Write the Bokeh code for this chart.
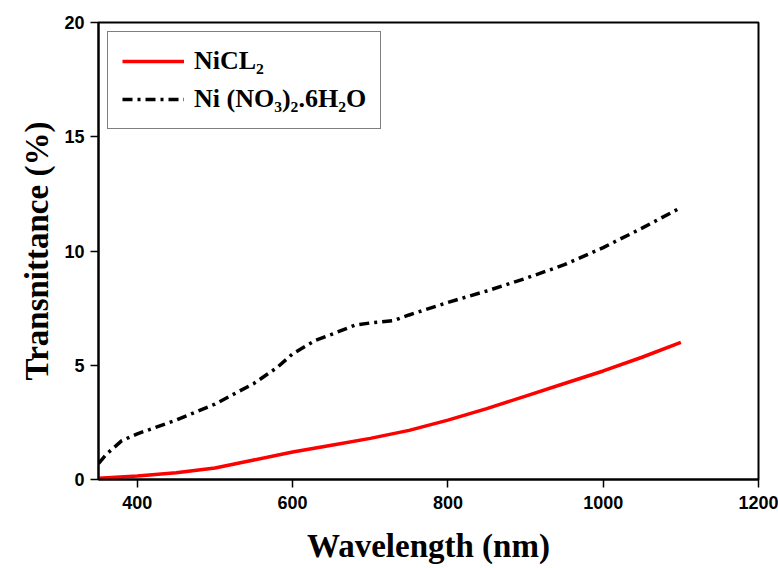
from bokeh.plotting import figure
from bokeh.models import Range1d, FixedTicker, Legend, LegendItem
from bokeh.embed import file_html
from bokeh.resources import INLINE

wl_nicl = [350, 400, 450, 500, 550, 600, 650, 700, 750, 800, 850, 900, 950, 1000, 1050, 1100]
t_nicl = [0.05, 0.15, 0.3, 0.5, 0.85, 1.2, 1.5, 1.8, 2.15, 2.6, 3.1, 3.65, 4.2, 4.75, 5.35, 6.0]

wl_nino = [350, 360, 380, 400, 450, 500, 550, 580, 600, 630, 650, 680, 700, 730, 750, 800, 850, 900, 950, 1000, 1050, 1100]
t_nino = [0.7, 1.1, 1.7, 2.0, 2.6, 3.3, 4.2, 4.9, 5.5, 6.1, 6.35, 6.75, 6.85, 6.95, 7.2, 7.75, 8.25, 8.8, 9.4, 10.15, 11.0, 11.9]

x_ticks = [400, 600, 800, 1000, 1200]
y_ticks = [0, 5, 10, 15, 20]

p = figure(width=778, height=568, output_backend="svg", toolbar_location=None,
           x_range=Range1d(350, 1200), y_range=Range1d(0, 20),
           min_border_left=98, min_border_right=20, min_border_top=22, min_border_bottom=89)

p.xgrid.visible = False
p.ygrid.visible = False
p.outline_line_color = "black"
p.outline_line_width = 2
p.background_fill_color = "white"
p.border_fill_color = "white"

r1 = p.line(wl_nicl, t_nicl, line_color="#ff0000", line_width=3.5)
r2 = p.line(wl_nino, t_nino, line_color="black", line_width=3.5, line_dash="10 5 3 5")

for ax in (p.xaxis[0], p.yaxis[0]):
    ax.axis_line_width = 2
    ax.axis_line_color = "black"
    ax.major_tick_line_width = 1.5
    ax.major_tick_out = 8
    ax.major_tick_in = 0
    ax.minor_tick_line_color = None
    ax.major_label_text_font = "Liberation Sans"
    ax.major_label_text_font_style = "bold"
    ax.major_label_text_font_size = "18px"
    ax.major_label_text_color = "black"
    ax.axis_label_text_font = "Liberation Serif"
    ax.axis_label_text_font_style = "bold"
    ax.axis_label_text_font_size = "33px"
    ax.axis_label_text_color = "black"

p.xaxis.ticker = FixedTicker(ticks=x_ticks)
p.yaxis.ticker = FixedTicker(ticks=y_ticks)
p.xaxis.axis_label = "Wavelength (nm)"
p.yaxis.axis_label = "Transnittance (%)"
p.xaxis.major_label_standoff = 8
p.yaxis.major_label_standoff = 6
p.xaxis.axis_label_standoff = 16
p.yaxis.axis_label_standoff = 6

legend = Legend(items=[LegendItem(label="NiCL₂", renderers=[r1]),
                       LegendItem(label="Ni (NO₃)₂.6H₂O", renderers=[r2])],
                location="top_left")
legend.label_text_font = "Liberation Serif"
legend.label_text_font_style = "bold"
legend.label_text_font_size = "26px"
legend.label_text_color = "black"
legend.border_line_color = "black"
legend.border_line_width = 1.5
legend.glyph_width = 62
legend.glyph_height = 28
legend.label_height = 28
legend.label_standoff = 10
legend.padding = 14
legend.spacing = 8
legend.margin = 9
legend.background_fill_alpha = 1
p.add_layout(legend)

open("out.html", "w").write(file_html(p, INLINE))
